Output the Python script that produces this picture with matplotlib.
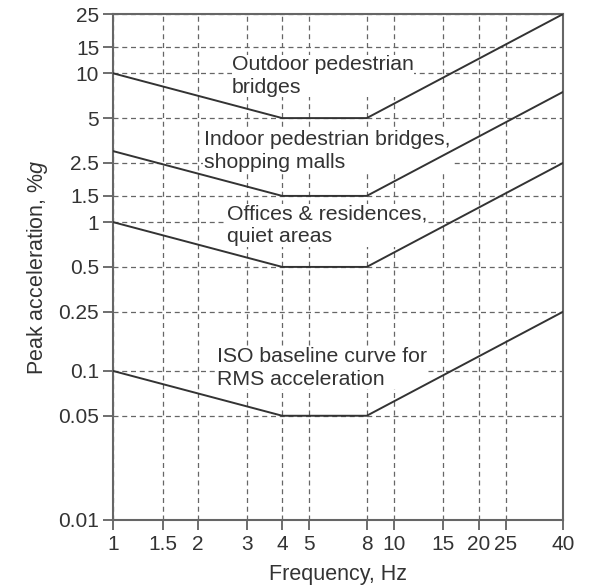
#!/usr/bin/env python3
"""Recommended peak acceleration limits for human comfort (log-log)."""
import matplotlib
matplotlib.use("Agg")
import matplotlib.pyplot as plt

plt.rcParams["font.family"] = ["Liberation Sans", "DejaVu Sans"]
plt.rcParams["mathtext.fontset"] = "custom"
plt.rcParams["mathtext.it"] = "Liberation Sans:italic"
plt.rcParams["mathtext.rm"] = "Liberation Sans"

# curve corner frequencies (Hz)
freq = [1, 4, 8, 40]
# peak acceleration limits, %g
outdoor = [10, 5, 5, 25]
indoor = [3, 1.5, 1.5, 7.5]
offices = [1, 0.5, 0.5, 2.5]
iso_base = [0.1, 0.05, 0.05, 0.25]

xticks = [1, 1.5, 2, 3, 4, 5, 8, 10, 15, 20, 25, 40]
xlabels = ["1", "1.5", "2", "3", "4", "5", "8", "10", "15", "20", "25", "40"]
yticks = [0.01, 0.05, 0.1, 0.25, 0.5, 1, 1.5, 2.5, 5, 10, 15, 25]
ylabels = ["0.01", "0.05", "0.1", "0.25", "0.5", "1", "1.5", "2.5", "5", "10", "15", "25"]

labels = [
    ("Outdoor pedestrian\nbridges", 2.65, 9.6),
    ("Indoor pedestrian bridges,\nshopping malls", 2.1, 3.0),
    ("Offices & residences,\nquiet areas", 2.55, 0.95),
    ("ISO baseline curve for\nRMS acceleration", 2.35, 0.105),
]

fig = plt.figure(figsize=(5.89, 5.86), dpi=100)
ax = fig.add_axes([0.192, 0.113, 0.764, 0.863])
ax.set_xscale("log")
ax.set_yscale("log")

line_kw = dict(color="#333333", linewidth=1.4, zorder=3)
for ys in (outdoor, indoor, offices, iso_base):
    ax.plot(freq, ys, **line_kw)

ax.set_xlim(1, 40)
ax.set_ylim(0.01, 25)
ax.set_xticks(xticks)
ax.set_xticklabels(xlabels)
ax.set_yticks(yticks)
ax.set_yticklabels(ylabels)
ax.minorticks_off()
ax.tick_params(axis="both", labelsize=15, length=7, width=1.2,
               color="#555555", labelcolor="#333333", direction="out", pad=3)
ax.tick_params(axis="x", pad=4)
ax.grid(True, which="major", linestyle=(0, (4, 3)), color="#666666",
        linewidth=0.9, zorder=1)
for s in ax.spines.values():
    s.set_color("#666666")
    s.set_linewidth(1.5)

for txt, x, y in labels:
    ax.text(x, y, txt, fontsize=15.3, color="#333333", ha="left", va="center",
            linespacing=1.25, zorder=2,
            bbox=dict(facecolor="white", edgecolor="none", pad=0.3))

ax.set_xlabel("Frequency, Hz", fontsize=15.5, color="#333333", labelpad=7)
ax.set_ylabel(r"Peak acceleration, %$g$", fontsize=15.5, color="#333333", labelpad=6)

fig.savefig("out.png", dpi=100, facecolor="white")
